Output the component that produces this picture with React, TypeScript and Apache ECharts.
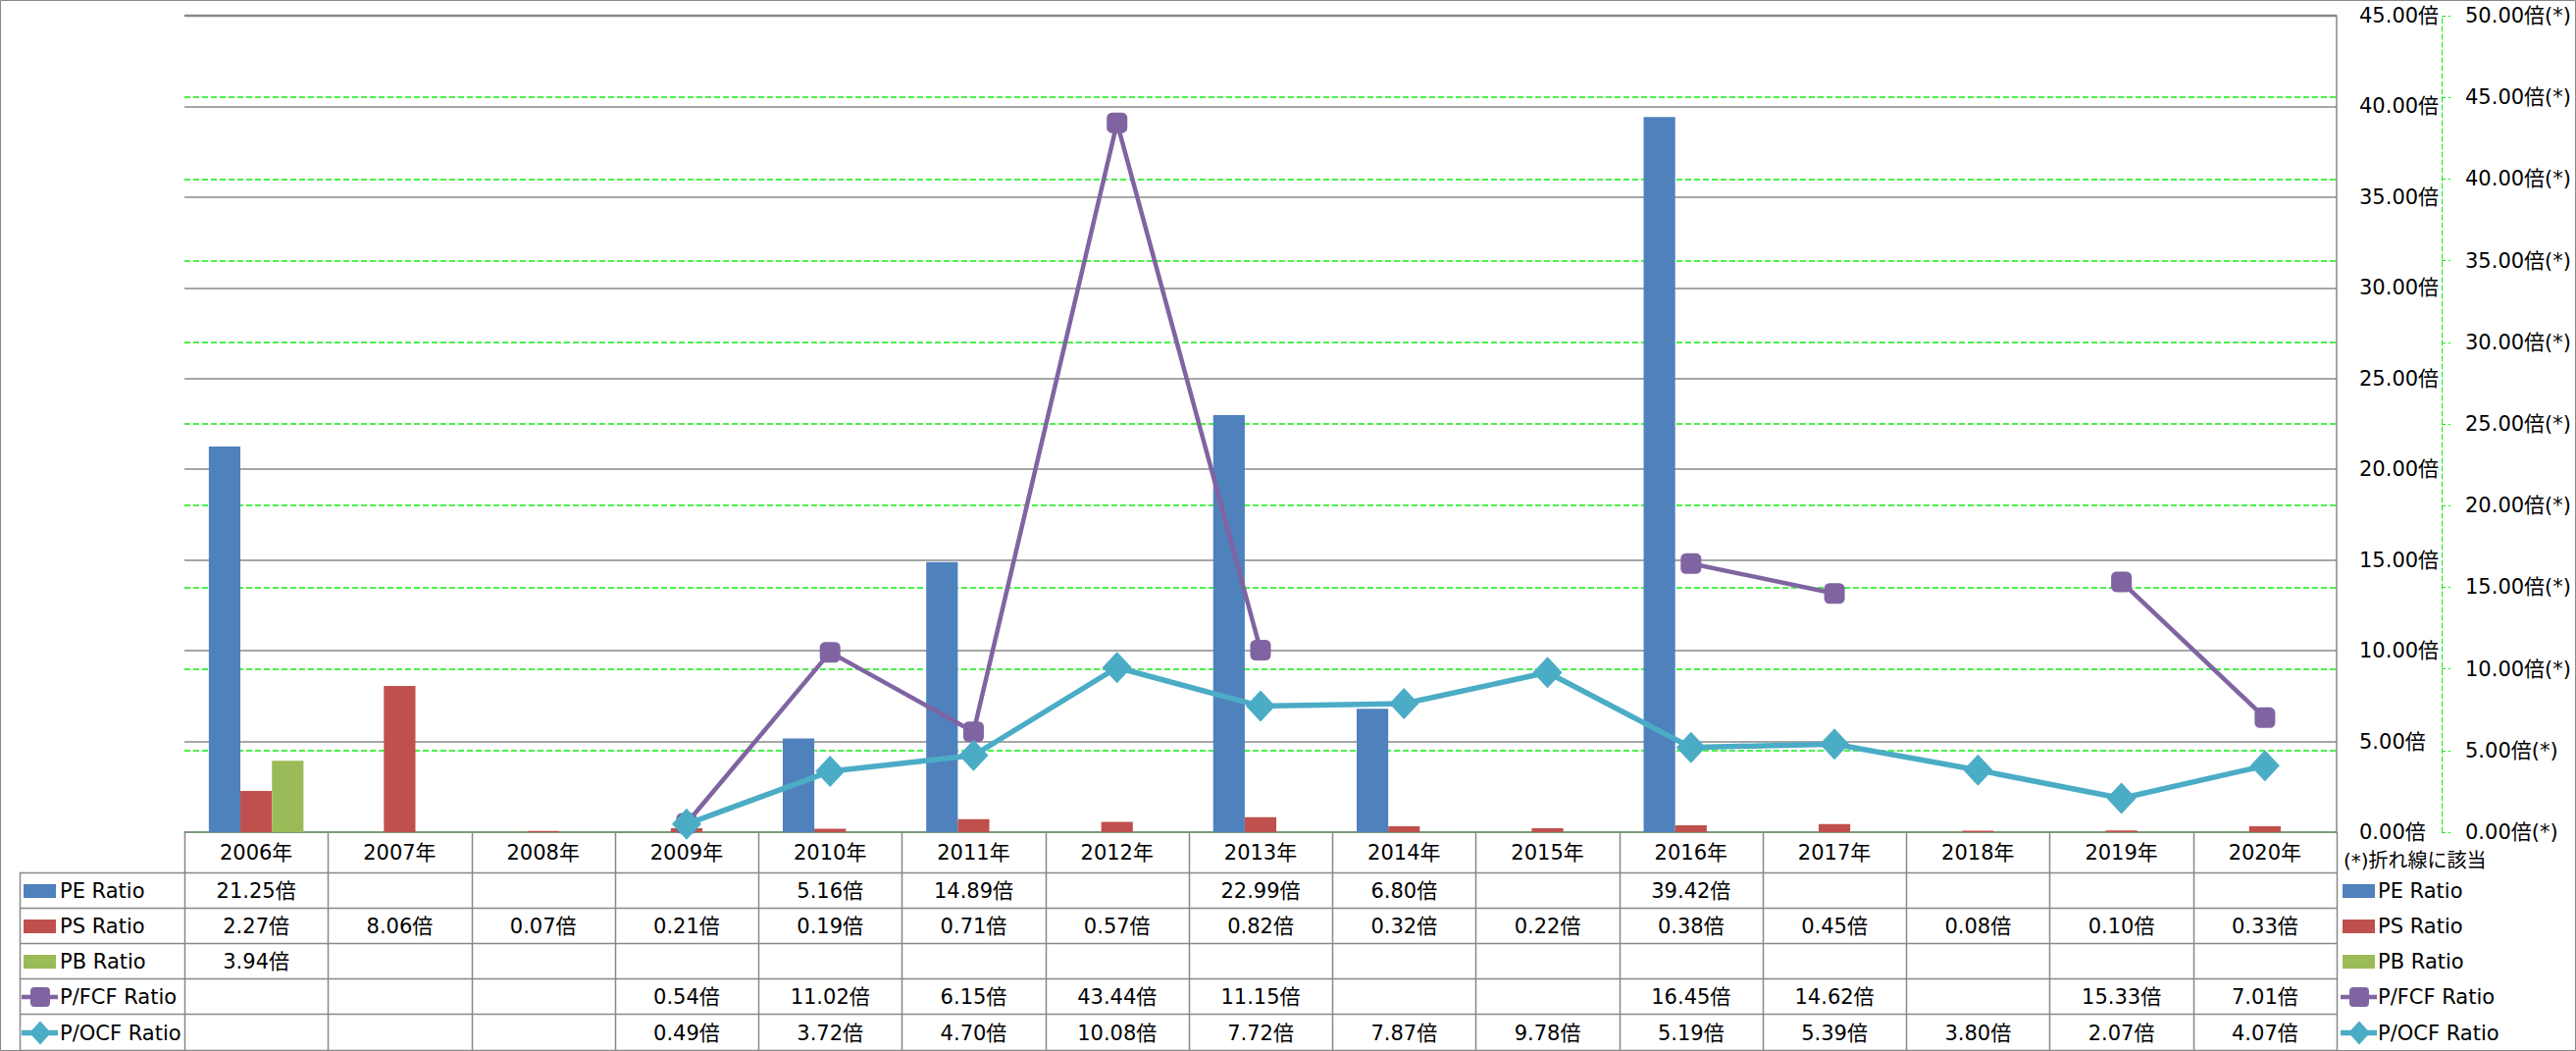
import React, { useEffect, useRef } from "react";
import * as echarts from "echarts";

const years = ["2006年","2007年","2008年","2009年","2010年","2011年","2012年","2013年","2014年","2015年","2016年","2017年","2018年","2019年","2020年"];
const peRatio = [21.25, null, null, null, 5.16, 14.89, null, 22.99, 6.80, null, 39.42, null, null, null, null];
const psRatio = [2.27, 8.06, 0.07, 0.21, 0.19, 0.71, 0.57, 0.82, 0.32, 0.22, 0.38, 0.45, 0.08, 0.10, 0.33];
const pbRatio = [3.94, null, null, null, null, null, null, null, null, null, null, null, null, null, null];
const pfcfRatio = [null, null, null, 0.54, 11.02, 6.15, 43.44, 11.15, null, null, 16.45, 14.62, null, 15.33, 7.01];
const pocfRatio = [null, null, null, 0.49, 3.72, 4.70, 10.08, 7.72, 7.87, 9.78, 5.19, 5.39, 3.80, 2.07, 4.07];
const seriesNames = ["PE Ratio", "PS Ratio", "PB Ratio", "P/FCF Ratio", "P/OCF Ratio"];
const lineNote = "(*)折れ線に該当";

const COLORS = ["#4F81BD", "#C0504D", "#9BBB59", "#8064A2", "#4BACC6"];
const FONT = "DejaVu Sans, 'Noto Sans CJK JP', sans-serif";
const GRAY = "#888888";
const GREEN = "#11ee11";

const W = 2626, H = 1071;
const PL = 188, PR = 2382, PT = 16, PB = 848;
const TL = 20;
const rowY = [889, 925, 961, 997, 1033, 1070];

export default function App() {
  const ref = useRef<HTMLDivElement>(null);
  useEffect(() => {
    if (!ref.current) return;
    const chart = echarts.init(ref.current, null, { renderer: "svg" });
    const allData = [peRatio, psRatio, pbRatio, pfcfRatio, pocfRatio];
    const colW = (PR - PL) / years.length;
    const g: any[] = [];
    g.push({ type: "rect", shape: { x: 0.5, y: 0.5, width: W - 1, height: H - 1 }, style: { fill: "none", stroke: GRAY, lineWidth: 1 }, silent: true });
    // gray top gridline drawn over the secondary green one
    g.push({ type: "line", z: 10, shape: { x1: PL, y1: PT, x2: PR, y2: PT }, style: { stroke: GRAY, lineWidth: 2.5 } });
    rowY.forEach((y) => {
      g.push({ type: "line", shape: { x1: TL, y1: y + 0.5, x2: PR, y2: y + 0.5 }, style: { stroke: GRAY, lineWidth: 1.5 } });
    });
    g.push({ type: "line", shape: { x1: TL + 0.5, y1: rowY[0], x2: TL + 0.5, y2: rowY[5] }, style: { stroke: GRAY, lineWidth: 1.5 } });
    for (let c = 0; c <= years.length; c++) {
      const x = Math.round(PL + c * colW) + 0.5;
      g.push({ type: "line", shape: { x1: x, y1: PB, x2: x, y2: rowY[5] }, style: { stroke: GRAY, lineWidth: 1.5 } });
    }
    for (let r = 0; r < 5; r++) {
      const cy = (rowY[r] + rowY[r + 1]) / 2 + 1;
      allData[r].forEach((v, c) => {
        if (v == null) return;
        g.push({ type: "text", x: PL + (c + 0.5) * colW, y: cy, style: { text: (v as number).toFixed(2) + "倍", font: `21px ${FONT}`, fill: "#000", align: "center", verticalAlign: "middle" } });
      });
    }
    const keyAt = (x0: number, cy: number, r: number) => {
      const col = COLORS[r];
      if (r < 3) {
        g.push({ type: "rect", shape: { x: x0, y: cy - 7, width: 33, height: 14 }, style: { fill: col } });
      } else {
        g.push({ type: "line", shape: { x1: x0 - 2, y1: cy, x2: x0 + 35, y2: cy }, style: { stroke: col, lineWidth: r === 3 ? 4.5 : 5.5 } });
        if (r === 3) {
          g.push({ type: "rect", shape: { x: x0 + 7, y: cy - 10, width: 20, height: 20, r: 4 }, style: { fill: col } });
        } else {
          g.push({ type: "polygon", shape: { points: [[x0 + 17, cy - 12], [x0 + 28, cy], [x0 + 17, cy + 12], [x0 + 6, cy]] }, style: { fill: col } });
        }
      }
    };
    for (let r = 0; r < 5; r++) {
      const cy = (rowY[r] + rowY[r + 1]) / 2 + 1;
      keyAt(24, cy, r);
      g.push({ type: "text", x: 61, y: cy, style: { text: seriesNames[r], font: `21px ${FONT}`, fill: "#000", align: "left", verticalAlign: "middle" } });
      keyAt(2388, cy, r);
      g.push({ type: "text", x: 2424, y: cy, style: { text: seriesNames[r], font: `21px ${FONT}`, fill: "#000", align: "left", verticalAlign: "middle" } });
    }
    g.push({ type: "text", x: 2389, y: 877, style: { text: lineNote, font: `20px ${FONT}`, fill: "#000", align: "left", verticalAlign: "middle" } });

    chart.setOption({
      animation: false,
      backgroundColor: "#fff",
      textStyle: { fontFamily: FONT },
      grid: { left: PL, right: W - PR, top: PT, bottom: H - PB, containLabel: false },
      xAxis: {
        type: "category",
        data: years,
        axisLine: { show: true, lineStyle: { color: GRAY, width: 1.5 } },
        axisTick: { show: false },
        axisLabel: { margin: 21, verticalAlign: "middle", fontSize: 21, color: "#000", fontFamily: FONT, interval: 0 },
        splitLine: { show: false },
      },
      yAxis: [
        {
          type: "value", position: "right", min: 0, max: 45, interval: 5,
          axisLine: { show: true, lineStyle: { color: GRAY, width: 1.5 } },
          axisTick: { show: false },
          splitLine: { show: true, lineStyle: { color: GRAY, width: 1.5 } },
          axisLabel: { margin: 23, fontSize: 21, color: "#000", fontFamily: FONT, formatter: (v: number) => v.toFixed(2) + "倍" },
        },
        {
          type: "value", position: "right", offset: 107, min: 0, max: 50, interval: 5,
          axisLine: { show: true, lineStyle: { color: GREEN, width: 1, type: [5, 3] } },
          axisTick: { show: true, inside: false, length: 9, lineStyle: { color: GREEN, width: 1, type: [4, 3] } },
          splitLine: { show: true, lineStyle: { color: GREEN, width: 1.5, type: [6, 3] } },
          axisLabel: { margin: 24, fontSize: 21, color: "#000", fontFamily: FONT, formatter: (v: number) => v.toFixed(2) + "倍(*)" },
        },
      ],
      series: [
        { name: seriesNames[0], type: "bar", yAxisIndex: 0, data: peRatio, itemStyle: { color: COLORS[0] }, barGap: "0%", barCategoryGap: "34%" },
        { name: seriesNames[1], type: "bar", yAxisIndex: 0, data: psRatio, itemStyle: { color: COLORS[1] }, barGap: "0%", barCategoryGap: "34%" },
        { name: seriesNames[2], type: "bar", yAxisIndex: 0, data: pbRatio, itemStyle: { color: COLORS[2] }, barGap: "0%", barCategoryGap: "34%" },
        { name: seriesNames[3], type: "line", yAxisIndex: 1, data: pfcfRatio, connectNulls: false, symbol: "roundRect", symbolSize: 21, showAllSymbol: true, itemStyle: { color: COLORS[3] }, lineStyle: { color: COLORS[3], width: 4.5 }, z: 3 },
        { name: seriesNames[4], type: "line", yAxisIndex: 1, data: pocfRatio, connectNulls: false, symbol: "diamond", symbolSize: [30, 32], showAllSymbol: true, itemStyle: { color: COLORS[4] }, lineStyle: { color: COLORS[4], width: 5.5 }, z: 4 },
      ],
      graphic: { elements: g },
    });
    return () => chart.dispose();
  }, []);
  return <div ref={ref} style={{ position: "fixed", left: 0, top: 0, width: W, height: H }} />;
}
